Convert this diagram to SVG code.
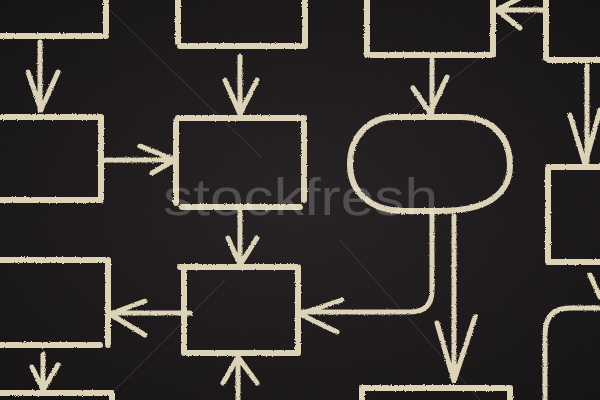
<svg xmlns="http://www.w3.org/2000/svg" width="600" height="400" viewBox="0 0 600 400">
<defs>
<radialGradient id="bg" cx="50%" cy="50%" r="70%">
<stop offset="0" stop-color="#282425"/>
<stop offset="1" stop-color="#171415"/>
</radialGradient>
<filter id="chalk" x="-5%" y="-5%" width="110%" height="110%">
<feTurbulence type="fractalNoise" baseFrequency="0.9" numOctaves="2" seed="3" result="n"/>
<feDisplacementMap in="SourceGraphic" in2="n" scale="2.5" xChannelSelector="R" yChannelSelector="G"/>
</filter>
</defs>
<style>
.c{fill:none;stroke:#dcd2b5;stroke-width:6;stroke-linecap:round;stroke-linejoin:round}
.t{fill:none;stroke:#dcd2b5;stroke-width:5;stroke-linecap:round;stroke-linejoin:round}
.wm{font-family:"Liberation Sans",Arial,sans-serif;font-size:52px;fill:#ffffff;fill-opacity:0.2}
</style>
<rect width="600" height="400" fill="url(#bg)"/>
<g stroke="#6a6466" stroke-width="0.8" opacity="0.5">
<line x1="110" y1="10" x2="262" y2="158"/>
<line x1="340" y1="240" x2="480" y2="400"/>
<line x1="115" y1="390" x2="225" y2="280"/>
<line x1="400" y1="120" x2="540" y2="10"/>
</g>
<g filter="url(#chalk)">
<g id="box-top-left"><path class="c" d="M0,36 H106 V-5"/></g>
<g id="box-top-mid"><path class="c" d="M178,-5 V42 M180,46 H305 V-5"/></g>
<g id="box-top-right"><path class="c" d="M367,-5 V55 H493 V-5"/></g>
<g id="box-far-top-right"><path class="c" d="M546,-5 V58 M549,60 H605"/></g>
<g id="box-left-1"><path class="c" d="M-5,117 H101 V200 H-5"/></g>
<g id="box-center-1"><path class="c" d="M176,121 V203 M178,118 H304 V200 M182,207 H300"/></g>
<g id="oval"><path class="c" d="M395,117 H460 C495,117 510,140 510,165 C510,192 490,211 440,211 H405 C370,211 350,192 350,164 C350,138 368,117 395,117 Z"/></g>
<g id="box-right"><path class="c" d="M605,167 H548 V262 H605"/></g>
<g id="box-left-2"><path class="c" d="M-5,260 H108 V345 M100,345 H-5"/></g>
<g id="box-center-2"><path class="c" d="M180,267 H298 V353 H184 V269"/></g>
<g id="box-bottom-left"><path class="c" d="M-5,393 H112 V405"/></g>
<g id="box-bottom"><path class="c" d="M362,405 V388 H510 V405"/></g>
<g id="connectors">
<path class="t" d="M40,42 V110 M28,72 L41,110 L58,72"/>
<path class="t" d="M106,160 H174 M140,146 L175,160 L152,173"/>
<path class="t" d="M240,56 V114 M225,80 L240,114 L257,80"/>
<path class="t" d="M543,10 H498 M520,-2 L497,10 L520,28"/>
<path class="t" d="M432,60 V112 M413,88 L430,113 L447,77"/>
<path class="t" d="M587,66 V162 M570,115 L585,164 L600,110"/>
<path class="t" d="M240,211 V264 M228,238 L240,265 L257,238"/>
<path class="t" d="M432,214 V290 Q432,312 410,312 H302 M342,300 L300,314 L337,332"/>
<path class="t" d="M454,216 V380 M437,323 L454,381 L475,317"/>
<path class="t" d="M190,313 H111 M145,301 L110,314 L145,335"/>
<path class="t" d="M43,354 V389 M32,367 L43,390 L58,365"/>
<path class="t" d="M238,405 V358 M223,383 L238,357 L257,383"/>
<path class="t" d="M605,308 H570 Q545,308 545,335 V405"/>
<path class="t" d="M590,275 L600,297"/>
</g>
</g>
<text class="wm" x="163" y="215" textLength="275" lengthAdjust="spacingAndGlyphs">stockfresh</text>
</svg>
